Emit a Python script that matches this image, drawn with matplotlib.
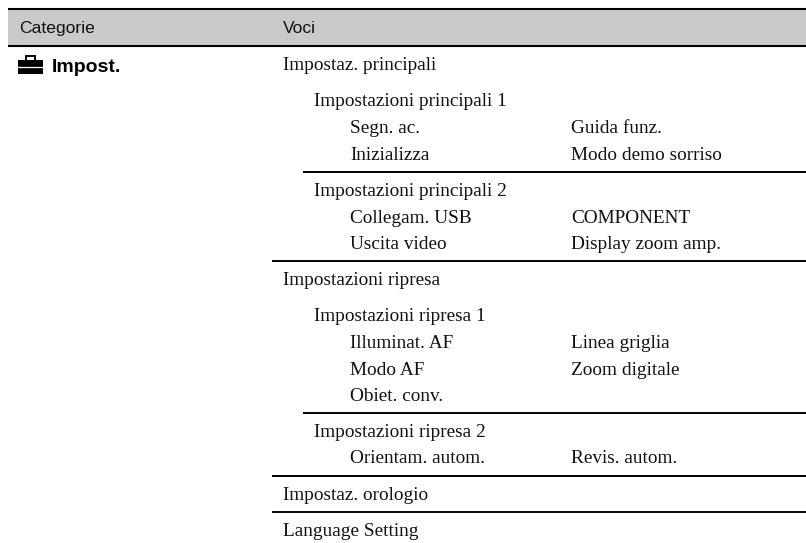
import matplotlib
matplotlib.use('Agg')
import matplotlib.pyplot as plt
from matplotlib.patches import Rectangle

headers = ['Categorie', 'Voci']
category = 'Impost.'

# (text, y of baseline)
level1 = [('Impostaz. principali', 70), ('Impostazioni ripresa', 285),
          ('Impostaz. orologio', 500), ('Language Setting', 536)]
level2 = [('Impostazioni principali 1', 106), ('Impostazioni principali 2', 196),
          ('Impostazioni ripresa 1', 321), ('Impostazioni ripresa 2', 437)]
level3 = [('Segn. ac.', 133), ('Inizializza', 160), ('Collegam. USB', 223),
          ('Uscita video', 249), ('Illuminat. AF', 348), ('Modo AF', 375),
          ('Obiet. conv.', 401), ('Orientam. autom.', 463)]
level3b = [('Guida funz.', 133), ('Modo demo sorriso', 160), ('COMPONENT', 223),
           ('Display zoom amp.', 249), ('Linea griglia', 348), ('Zoom digitale', 375),
           ('Revis. autom.', 463)]
long_rules = [261, 476, 512]
short_rules = [172, 413]

fig = plt.figure(figsize=(8.06, 5.43), dpi=100)
ax = fig.add_axes([0, 0, 1, 1])
ax.set_xlim(0, 806)
ax.set_ylim(543, 0)
ax.axis('off')

ax.add_patch(Rectangle((8, 9), 798, 37, color='#cacaca', lw=0))
ax.plot([8, 806], [9, 9], '-k', lw=1.5, solid_capstyle='butt')
ax.plot([8, 806], [46, 46], '-k', lw=1.5, solid_capstyle='butt')
for y in long_rules:
    ax.plot([272, 806], [y, y], '-k', lw=1.4, solid_capstyle='butt')
for y in short_rules:
    ax.plot([303, 806], [y, y], '-k', lw=1.4, solid_capstyle='butt')

head = dict(family='Liberation Sans', size=12.6, va='baseline', color='#111111')
ax.text(19, 33, headers[0], **head)
ax.text(283, 33, headers[1], **head)
ax.text(52, 72, category, family='Liberation Sans', size=14, weight='bold', va='baseline')

# toolbox icon
ax.add_patch(Rectangle((18, 60), 25, 14, color='k', lw=0))
ax.add_patch(Rectangle((26, 55.5), 9, 5, fill=False, ec='k', lw=1.4))
ax.plot([18, 43], [66.5, 66.5], '-w', lw=0.9)
ax.add_patch(Rectangle((23, 65), 3, 3, color='k', lw=0))
ax.add_patch(Rectangle((35, 65), 3, 3, color='k', lw=0))

body = dict(family='Liberation Serif', size=13.9, va='baseline', color='#111111')
for t, y in level1:
    ax.text(283, y, t, **body)
for t, y in level2:
    ax.text(314, y, t, **body)
for t, y in level3:
    ax.text(350, y, t, **body)
for t, y in level3b:
    ax.text(571, y, t, **body)

fig.savefig('out.png', dpi=100)
